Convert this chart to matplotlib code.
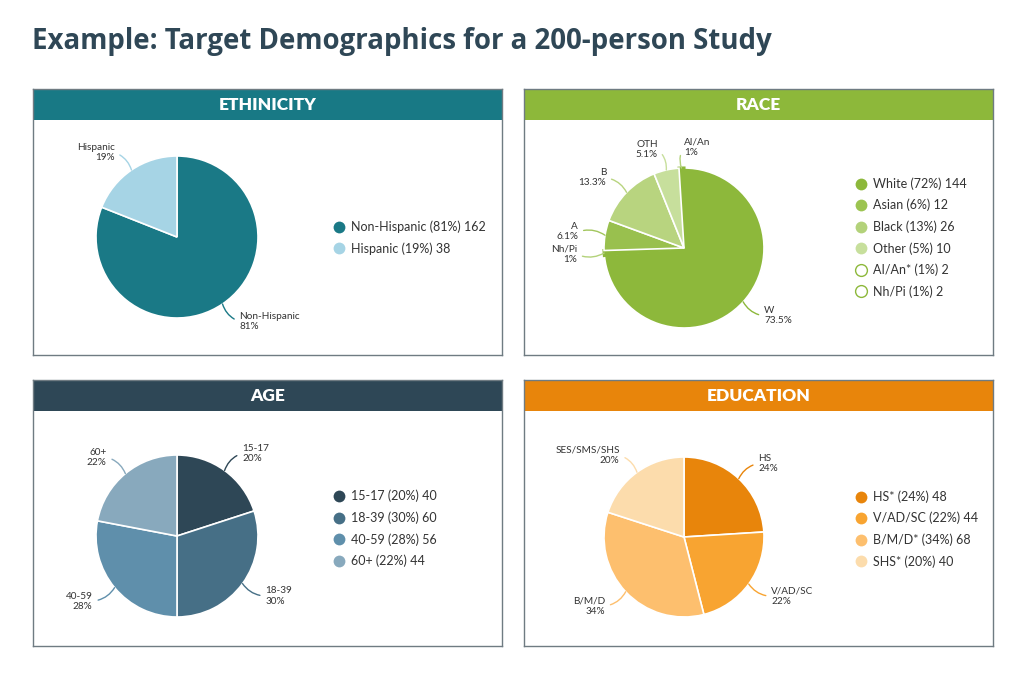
import matplotlib
matplotlib.use('Agg')
import matplotlib.pyplot as plt
from matplotlib.patches import Rectangle
from matplotlib.lines import Line2D
import numpy as np

W, H = 1024, 676
FONT = 'Lato'
plt.rcParams['font.family'] = [FONT, 'DejaVu Sans']

TITLE = 'Example: Target Demographics for a 200-person Study'

# ---------------- data ----------------
eth_labels = ['Non-Hispanic', 'Hispanic']
eth_values = [81, 19]
eth_colors = ['#1a7986', '#a6d4e5']
eth_legend = ['Non-Hispanic (81%) 162', 'Hispanic (19%) 38']
eth_legend_colors = ['#1a7986', '#a6d4e5']
eth_legend_hollow = [False, False]

race_labels = ['W', 'Nh/Pi', 'A', 'B', 'OTH', 'AI/An']
race_values = [73.5, 1, 6.1, 13.3, 5.1, 1]
race_colors = ['#8db83b', '#8db83b', '#99c04e', '#b8d47f', '#c7df9c', '#8db83b']
race_line_colors = ['#8db83b', '#b3d27a', '#a2c65d', '#b8d47f', '#c7df9c', '#b3d27a']
race_sliver = [False, True, False, False, False, True]
race_legend = ['White (72%) 144', 'Asian (6%) 12', 'Black (13%) 26',
               'Other (5%) 10', 'AI/An* (1%) 2', 'Nh/Pi (1%) 2']
race_legend_colors = ['#8db83b', '#9cc451', '#b3d27a', '#c7df9c', '#8db83b', '#8db83b']
race_legend_hollow = [False, False, False, False, True, True]

age_labels = ['15-17', '18-39', '40-59', '60+']
age_values = [20, 30, 28, 22]
age_colors = ['#2e4756', '#466f86', '#5f8fab', '#88a9bd']
age_legend = ['15-17 (20%) 40', '18-39 (30%) 60', '40-59 (28%) 56', '60+ (22%) 44']
age_legend_colors = age_colors
age_legend_hollow = [False] * 4

edu_labels = ['HS', 'V/AD/SC', 'B/M/D', 'SES/SMS/SHS']
edu_values = [24, 22, 34, 20]
edu_colors = ['#e8850b', '#f8a431', '#fdbf6e', '#fcdcac']
edu_legend = ['HS* (24%) 48', 'V/AD/SC (22%) 44', 'B/M/D* (34%) 68', 'SHS* (20%) 40']
edu_legend_colors = edu_colors
edu_legend_hollow = [False] * 4

TEXT = '#333333'


def fx(x):
    return x / W


def fy(y):
    return 1 - y / H


fig = plt.figure(figsize=(W / 100, H / 100), dpi=100)
fig.patch.set_facecolor('white')

fig.text(fx(32), fy(42), TITLE, fontsize=19.9, fontweight='bold',
         family=['Open Sans', 'DejaVu Sans'],
         color='#2f4756', ha='left', va='center')


def panel(x0, y0, w, h, title, hcolor, cx, cy, r, values, labels, colors,
          line_colors, leg_labels, leg_colors, leg_hollow, leg_x, leg_cy,
          sliver=None):
    # frame
    pax = fig.add_axes([fx(x0), fy(y0 + h), w / W, h / H])
    pax.set_xlim(0, w)
    pax.set_ylim(h, 0)
    pax.set_xticks([])
    pax.set_yticks([])
    for s in pax.spines.values():
        s.set_color('#6f7b82')
        s.set_linewidth(1.0)
    hh = 31
    pax.add_patch(Rectangle((0, 0), w, hh, facecolor=hcolor, edgecolor='none'))
    pax.text(w / 2, hh / 2 + 0.5, title, color='white', fontsize=12.5,
             fontweight='heavy', ha='center', va='center')

    # pie
    ax = fig.add_axes([fx(cx - r), fy(cy + r), 2 * r / W, 2 * r / H])
    wedges, _ = ax.pie(values, colors=colors, startangle=90, counterclock=False,
                       radius=1, wedgeprops=dict(edgecolor='white', linewidth=1.2))
    if sliver is not None:
        wedges[0].set_zorder(0.8)
        for wdg, sl in zip(wedges, sliver):
            if sl:
                wdg.set_edgecolor(wdg.get_facecolor())
                wdg.set_linewidth(2.2)
                wdg.set_zorder(0.9)
    ax.set_xlim(-1, 1)
    ax.set_ylim(-1, 1)
    ax.set_aspect('equal')
    ax.axis('off')
    for wdg, lab, v, lc in zip(wedges, labels, values, line_colors):
        th = np.deg2rad((wdg.theta1 + wdg.theta2) / 2)
        x, y = np.cos(th), np.sin(th)
        right = x > -0.05
        ha = 'left' if right else 'right'
        tx = 1.3 * x + (0.04 if right else -0.04)
        ty = 1.26 * y
        rad = 0.25 if (right == (y > 0)) else -0.25
        ax.annotate(f'{lab}\n{v:g}%', xy=(x, y), xytext=(tx, ty),
                    ha=ha, va='center', fontsize=7.2, color=TEXT,
                    linespacing=1.15, annotation_clip=False,
                    arrowprops=dict(arrowstyle='-', color=lc, lw=1.0,
                                    shrinkA=2, shrinkB=0,
                                    relpos=(0, 0.5) if right else (1, 0.5),
                                    connectionstyle=f'arc3,rad={rad}'))

    # legend
    handles = []
    for c, hol in zip(leg_colors, leg_hollow):
        handles.append(Line2D([], [], linestyle='none', marker='o', markersize=8.5,
                              markerfacecolor='white' if hol else c,
                              markeredgecolor=c, markeredgewidth=1.0 if hol else 0))
    fig.legend(handles, leg_labels, loc='center left',
               bbox_to_anchor=(fx(leg_x), fy(leg_cy)), frameon=False,
               fontsize=9, labelcolor=TEXT, handlelength=0.8, handletextpad=0.55,
               labelspacing=0.72, borderpad=0, borderaxespad=0)


panel(33, 89, 469, 266, 'ETHINICITY', '#187985', 177, 237, 81,
      eth_values, eth_labels, eth_colors, eth_colors,
      eth_legend, eth_legend_colors, eth_legend_hollow, 334, 237.5)
panel(524, 89, 469, 266, 'RACE', '#8db83a', 684, 248, 80,
      race_values, race_labels, race_colors, race_line_colors,
      race_legend, race_legend_colors, race_legend_hollow, 856, 237.5,
      sliver=race_sliver)
panel(33, 380, 469, 266, 'AGE', '#2e4756', 177, 536, 81,
      age_values, age_labels, age_colors, age_colors,
      age_legend, age_legend_colors, age_legend_hollow, 334, 528.5)
panel(524, 380, 469, 266, 'EDUCATION', '#e8850b', 684, 537, 80,
      edu_values, edu_labels, edu_colors, edu_colors,
      edu_legend, edu_legend_colors, edu_legend_hollow, 856, 529)

fig.savefig('out.png', dpi=100, facecolor='white')
